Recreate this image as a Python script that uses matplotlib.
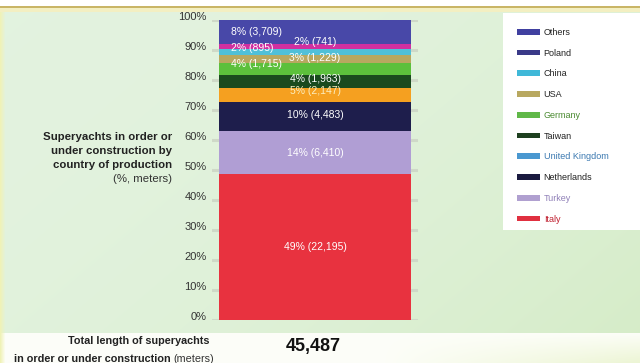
import numpy as np
import matplotlib
matplotlib.use("Agg")
import matplotlib.pyplot as plt
from matplotlib.patches import Patch, Rectangle
from matplotlib.transforms import ScaledTranslation

plt.rcParams['font.family'] = ['Liberation Sans', 'DejaVu Sans']

# ---- data ----
countries = ["Italy", "Turkey", "Netherlands", "United Kingdom", "Taiwan",
             "Germany", "USA", "China", "Poland", "Others"]
meters = [22195, 6410, 4483, 2147, 1963, 1715, 1229, 895, 741, 3709]
pct_labels = ["49%", "14%", "10%", "5%", "4%", "4%", "3%", "2%", "2%", "8%"]
total_meters = 45487
bar_colors = ["#e8323f", "#b09ed4", "#1e1e4c", "#f5a020", "#1a4a1e",
              "#5cc03c", "#b8a860", "#50c0d8", "#d030a0", "#4848a8"]
legend_colors = ["#e03040", "#b0a0d0", "#1a1a40", "#4a98d0", "#1e4020",
                 "#60b848", "#b8a860", "#40b8d8", "#3a3a88", "#4040a0"]
legend_text_colors = ["#c02030", "#9080b8", "#222222", "#3a78b0", "#222222",
                      "#4a8a30", "#222222", "#222222", "#222222", "#222222"]
yticks = [0, 10, 20, 30, 40, 50, 60, 70, 80, 90, 100]
ytick_labels = ["0%", "10%", "20%", "30%", "40%", "50%", "60%", "70%", "80%", "90%", "100%"]

# ---- label styling (placement, not data) ----
label_ha = ["center", "center", "center", "center", "center",
            "left", "center", "left", "center", "left"]
label_dy_px = [0, -1, 2, 4, 2, 5, 1, 4, 5, 0]
label_colors = ["white"] * 10
label_colors[3] = "#fbeec0"

W, H, DPI = 640, 363, 100
fig = plt.figure(figsize=(W / DPI, H / DPI), dpi=DPI, facecolor="white")

# background
bg = fig.add_axes([0, 0, 1, 1])
bg.set_xlim(0, W)
bg.set_ylim(H, 0)
bg.axis("off")
yy, xx = np.mgrid[0:H, 0:W]
g0 = np.array([0.890, 0.953, 0.875])
g1 = np.array([0.835, 0.925, 0.780])
t = np.clip((xx / W) * 0.6 + (yy / H) * 0.4, 0, 1)[..., None]
t = t ** 2
img = g0 * (1 - t) + g1 * t
# bottom band
w0 = np.array([0.992, 0.996, 0.975])
w1 = np.array([0.925, 0.960, 0.830])
tb = np.clip(((xx - 380) / 260).clip(0) * ((yy - 332) / 31).clip(0, 1), 0, 1)[..., None]
band = w0 * (1 - tb) + w1 * tb
img = np.where((yy >= 333)[..., None], band, img)
img = np.where((yy < 12)[..., None], np.array([1.0, 1.0, 1.0]), img)
# left yellow edge
edge = np.array([0.94, 0.95, 0.72])
te = np.clip(1 - xx / 5, 0, 1)[..., None] * ((yy >= 12))[..., None]
img = img * (1 - te) + edge * te
bg.imshow(img, extent=(0, W, H, 0), aspect="auto", interpolation="bilinear")
bg.add_patch(Rectangle((0, 6), W, 2.2, color="#c9b566", lw=0))
bg.add_patch(Rectangle((0, 8.2), W, 3.5, color="#f3efc2", lw=0))
bg.add_patch(Rectangle((503, 13), 140, 217, color="white", lw=0))

# main axes
px_left, px_right = 212, 418
px_top, px_bottom = 20, 320
ax = fig.add_axes([px_left / W, 1 - px_bottom / H, (px_right - px_left) / W,
                   (px_bottom - px_top) / H])
ax.set_facecolor("none")
ax.set_xlim(0, 1)
ax.set_ylim(0, 100)
for s in ax.spines.values():
    s.set_visible(False)
ax.set_xticks([])
ax.set_yticks(yticks)
ax.set_yticklabels(ytick_labels, fontsize=8, color="#333333")
ax.tick_params(axis="y", length=0, pad=4)
off = ScaledTranslation(0, 4 / 100, fig.dpi_scale_trans)
for lab in ax.get_yticklabels():
    lab.set_transform(lab.get_transform() + off)
ax.yaxis.grid(True, color="#cfd9c8", lw=2.2)
ax.set_axisbelow(True)

pct = np.array(meters) / total_meters * 100
bottoms = np.concatenate([[0], np.cumsum(pct)[:-1]])
bar_w = (411 - 219) / (px_right - px_left)
ax.bar([0.5] * len(pct), pct, bottom=bottoms, width=bar_w, color=bar_colors,
       linewidth=0, zorder=3)

left_x = 0.5 - bar_w / 2 + (231 - 219) / (px_right - px_left)
for i in range(len(pct)):
    x = 0.5 if label_ha[i] == "center" else left_x
    yc = bottoms[i] + pct[i] / 2
    t_off = ScaledTranslation(0, label_dy_px[i] / 100, fig.dpi_scale_trans)
    ax.text(x, yc, f"{pct_labels[i]} ({meters[i]:,})", ha=label_ha[i],
            va="center", fontsize=7.5, color=label_colors[i], zorder=4,
            transform=ax.transData + t_off)

# legend
handles = [Patch(facecolor=c, edgecolor="none") for c in legend_colors[::-1]]
leg = fig.legend(handles, countries[::-1], loc="upper left",
                 bbox_to_anchor=(517 / W, 1 - 28 / H), frameon=False,
                 fontsize=6.5, handlelength=2.5, handleheight=0.6,
                 handletextpad=0.45, labelspacing=1.3, borderpad=0,
                 borderaxespad=0, labelcolor=legend_text_colors[::-1])

# left title
fig.text(172 / W, 1 - 151 / H,
         "Superyachts in order or\nunder construction by\ncountry of production",
         ha="right", va="center", fontsize=8.2, fontweight="bold", color="#222222",
         linespacing=1.55)
fig.text(172 / W, 1 - 179 / H, "(%, meters)", ha="right", va="center",
         fontsize=8.2, color="#333333")

# bottom
fig.text(209 / W, 1 - 341 / H, "Total length of superyachts", ha="right",
         va="center", fontsize=7.8, fontweight="bold", color="#222222")
fig.text(171 / W, 1 - 359 / H, "in order or under construction", ha="right",
         va="center", fontsize=7.8, fontweight="bold", color="#222222")
fig.text(173 / W, 1 - 359 / H, "(meters)", ha="left", va="center",
         fontsize=7.8, color="#333333")
fig.text(313 / W, 1 - 347 / H, f"{total_meters:,}", ha="center", va="center",
         fontsize=13, fontweight="bold", color="#111111")

fig.savefig("out.png", dpi=DPI, facecolor="white")
